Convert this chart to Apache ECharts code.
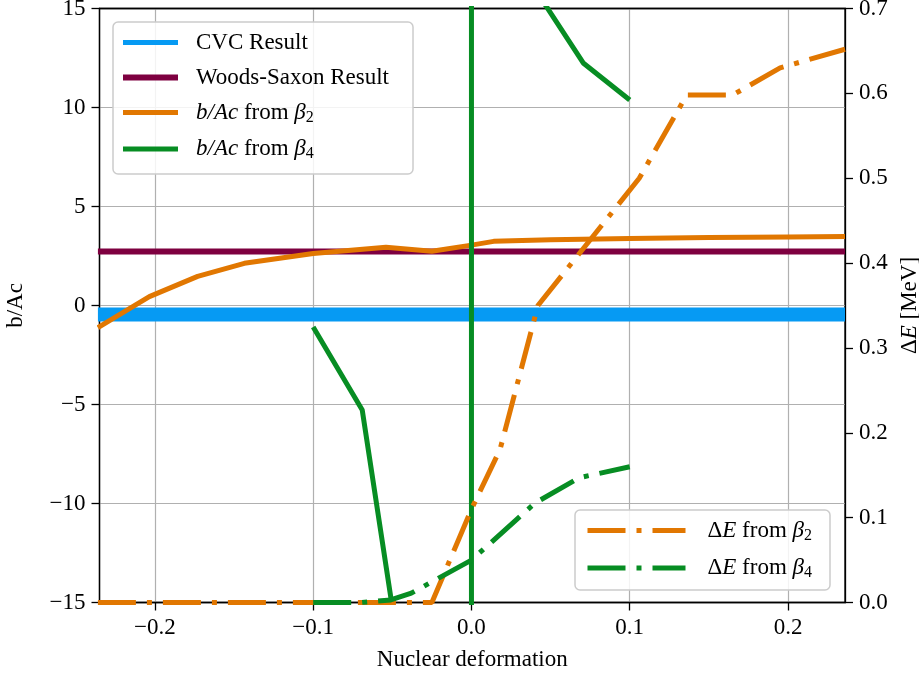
<!DOCTYPE html>
<html>
<head>
<meta charset="utf-8">
<script src="https://cdn.jsdelivr.net/npm/echarts@6/dist/echarts.min.js"></script>
<style>
html,body{margin:0;padding:0;background:#fff;}
#chart{width:919px;height:674px;}
</style>
</head>
<body>
<div id="chart"></div>
<script>
// ---- data ----
const xTicks = [-0.2, -0.1, 0.0, 0.1, 0.2];
const cvcX = [-0.236, 0.236];
const cvcY = [-0.455, -0.455];
const wsX = [-0.236, 0.236];
const wsY = [2.73, 2.73];
const b2X = [-0.236, -0.2035, -0.173, -0.1435, -0.1, -0.054, -0.025, 0.0, 0.014, 0.05, 0.1, 0.15, 0.2, 0.236];
const b2Y = [-1.12, 0.45, 1.47, 2.13, 2.63, 2.94, 2.74, 3.05, 3.24, 3.32, 3.39, 3.43, 3.46, 3.49];
const b4X = [-0.1, -0.069, -0.051, 0.0, 0.0, 0.04, 0.0706, 0.1];
const b4Y = [-1.09, -5.28, -14.72, -1000, 1000, 16.0, 12.25, 10.38];
const e2X = [-0.236, -0.025, 0.0, 0.018, 0.042, 0.106, 0.136, 0.165, 0.195, 0.236];
const e2Y = [0.0, 0.0, 0.11, 0.18, 0.35, 0.50, 0.598, 0.598, 0.63, 0.652];
const e4X = [-0.1, -0.07, -0.051, -0.038, 0.0, 0.04, 0.068, 0.1];
const e4Y = [0.0, 0.0, 0.003, 0.011, 0.05, 0.117, 0.147, 0.16];

const zip = (a, b) => a.map((v, i) => [v, b[i]]);
const FONT = 'Liberation Serif';
const FS = 23;
const minus = s => String(s).replace('-', '\u2212');

const C_BLUE = '#069af3', C_WINE = '#7e0040', C_ORANGE = '#e17701', C_GREEN = '#078d23';
const DASHDOT = [38, 11, 5, 11];

const rich = {
  i: {fontFamily: FONT, fontSize: FS, fontStyle: 'italic', color: '#000'},
  n: {fontFamily: FONT, fontSize: FS, color: '#000'},
  s: {fontFamily: FONT, fontSize: 16, color: '#000', padding: [10, 0, 0, 0]}
};
function legendFmt(name) {
  let m;
  if ((m = name.match(/^b\/Ac from β(\d)$/))) return '{i|b/Ac}{n| from }{i|β}{s|' + m[1] + '}';
  if ((m = name.match(/^ΔE from β(\d)$/))) return '{n|Δ}{i|E}{n| from }{i|β}{s|' + m[1] + '}';
  return '{n|' + name + '}';
}

const chart = echarts.init(document.getElementById('chart'), null, {renderer: 'canvas'});
const axisLbl = {fontFamily: FONT, fontSize: FS, color: '#000'};

chart.setOption({
  animation: false,
  backgroundColor: '#fff',
  grid: {left: 99.5, right: 74, top: 8.5, bottom: 71.5, outerBoundsMode: 'none', containLabel: false,
         show: true, borderColor: '#000', borderWidth: 1.3, backgroundColor: 'transparent'},
  xAxis: [{
    type: 'value', min: -0.235, max: 0.236, position: 'bottom',
    name: 'Nuclear deformation', nameLocation: 'middle', nameGap: 46,
    nameTextStyle: {fontFamily: FONT, fontSize: FS, color: '#000'},
    axisLine: {show: true, onZero: false, lineStyle: {color: '#000', width: 1.3}},
    axisTick: {show: true, inside: false, length: 8, lineStyle: {color: '#000', width: 1.3}, customValues: xTicks},
    axisLabel: Object.assign({margin: 14, customValues: xTicks, formatter: v => minus(v.toFixed(1))}, axisLbl),
    splitLine: {show: true, lineStyle: {color: '#b0b0b0', width: 1.2}}
  }, {
    type: 'value', min: -0.235, max: 0.236, position: 'top',
    axisLine: {show: true, onZero: false, lineStyle: {color: '#000', width: 1.3}},
    axisTick: {show: false}, axisLabel: {show: false}, splitLine: {show: false}
  }],
  yAxis: [{
    type: 'value', min: -15, max: 15, interval: 5, position: 'left',
    name: 'b/Ac', nameLocation: 'middle', nameGap: 72, nameRotate: 90,
    nameTextStyle: {fontFamily: FONT, fontSize: FS, color: '#000'},
    axisLine: {show: true, onZero: false, lineStyle: {color: '#000', width: 1.3}},
    axisTick: {show: true, inside: false, length: 8, lineStyle: {color: '#000', width: 1.3}},
    axisLabel: Object.assign({margin: 14, formatter: v => minus(v)}, axisLbl),
    splitLine: {show: true, showMinLine: false, showMaxLine: false, lineStyle: {color: '#b0b0b0', width: 1.2}}
  }, {
    type: 'value', min: 0, max: 0.7, interval: 0.1, position: 'right',
    name: '{n|Δ}{i|E}{n| [MeV]}', nameLocation: 'middle', nameGap: 47, nameRotate: 90,
    nameTextStyle: {fontFamily: FONT, fontSize: FS, color: '#000', rich: rich},
    axisLine: {show: true, onZero: false, lineStyle: {color: '#000', width: 1.3}},
    axisTick: {show: true, inside: false, length: 8, lineStyle: {color: '#000', width: 1.3}},
    axisLabel: Object.assign({margin: 14, formatter: v => v.toFixed(1)}, axisLbl),
    splitLine: {show: false}
  }],
  legend: [{
    orient: 'vertical', left: 113, top: 22,
    padding: [9, 24, 12, 7], itemGap: 12, itemWidth: 55, itemHeight: 14,
    backgroundColor: 'rgba(255,255,255,0.85)', borderColor: '#cccccc', borderWidth: 1.5, borderRadius: 5,
    itemStyle: {opacity: 0},
    data: [
      {name: 'CVC Result', lineStyle: {width: 5, color: C_BLUE}},
      {name: 'Woods-Saxon Result', lineStyle: {width: 6, color: C_WINE}},
      {name: 'b/Ac from β2', lineStyle: {width: 5, color: C_ORANGE}},
      {name: 'b/Ac from β4', lineStyle: {width: 5, color: C_GREEN}}
    ],
    formatter: legendFmt,
    textStyle: {fontFamily: FONT, fontSize: FS, color: '#000', padding: [0, 0, 0, 13], rich: rich}
  }, {
    orient: 'vertical', left: 575, top: 510,
    padding: [9, 18, 9, 10], itemGap: 13, itemWidth: 98, itemHeight: 14,
    backgroundColor: 'rgba(255,255,255,0.85)', borderColor: '#cccccc', borderWidth: 1.5, borderRadius: 5,
    itemStyle: {opacity: 0},
    data: [
      {name: 'ΔE from β2', lineStyle: {width: 5, color: C_ORANGE, type: DASHDOT, cap: 'butt'}},
      {name: 'ΔE from β4', lineStyle: {width: 5, color: C_GREEN, type: DASHDOT, cap: 'butt'}}
    ],
    formatter: legendFmt,
    textStyle: {fontFamily: FONT, fontSize: FS, color: '#000', padding: [0, 0, 0, 17], rich: rich}
  }],
  series: [
    {name: 'CVC Result', type: 'line', yAxisIndex: 0, data: zip(cvcX, cvcY), symbol: 'none', showSymbol: false,
     lineStyle: {color: C_BLUE, width: 14, cap: 'butt'}, itemStyle: {color: C_BLUE}, z: 2},
    {name: 'Woods-Saxon Result', type: 'line', yAxisIndex: 0, data: zip(wsX, wsY), symbol: 'none', showSymbol: false,
     lineStyle: {color: C_WINE, width: 6, cap: 'butt'}, itemStyle: {color: C_WINE}, z: 3},
    {name: 'b/Ac from β2', type: 'line', yAxisIndex: 0, data: zip(b2X, b2Y), symbol: 'none', showSymbol: false,
     lineStyle: {color: C_ORANGE, width: 5, join: 'round'}, itemStyle: {color: C_ORANGE}, z: 4},
    {name: 'b/Ac from β4', type: 'line', yAxisIndex: 0, data: zip(b4X, b4Y), symbol: 'none', showSymbol: false,
     lineStyle: {color: C_GREEN, width: 5, join: 'round'}, itemStyle: {color: C_GREEN}, z: 5},
    {name: 'ΔE from β2', type: 'line', yAxisIndex: 1, data: zip(e2X, e2Y), symbol: 'none', showSymbol: false,
     lineStyle: {color: C_ORANGE, width: 5, type: DASHDOT, cap: 'butt'}, itemStyle: {color: C_ORANGE}, z: 6},
    {name: 'ΔE from β4', type: 'line', yAxisIndex: 1, data: zip(e4X, e4Y), symbol: 'none', showSymbol: false,
     lineStyle: {color: C_GREEN, width: 5, type: DASHDOT, cap: 'butt'}, itemStyle: {color: C_GREEN}, z: 7}
  ]
});
</script>
</body>
</html>
